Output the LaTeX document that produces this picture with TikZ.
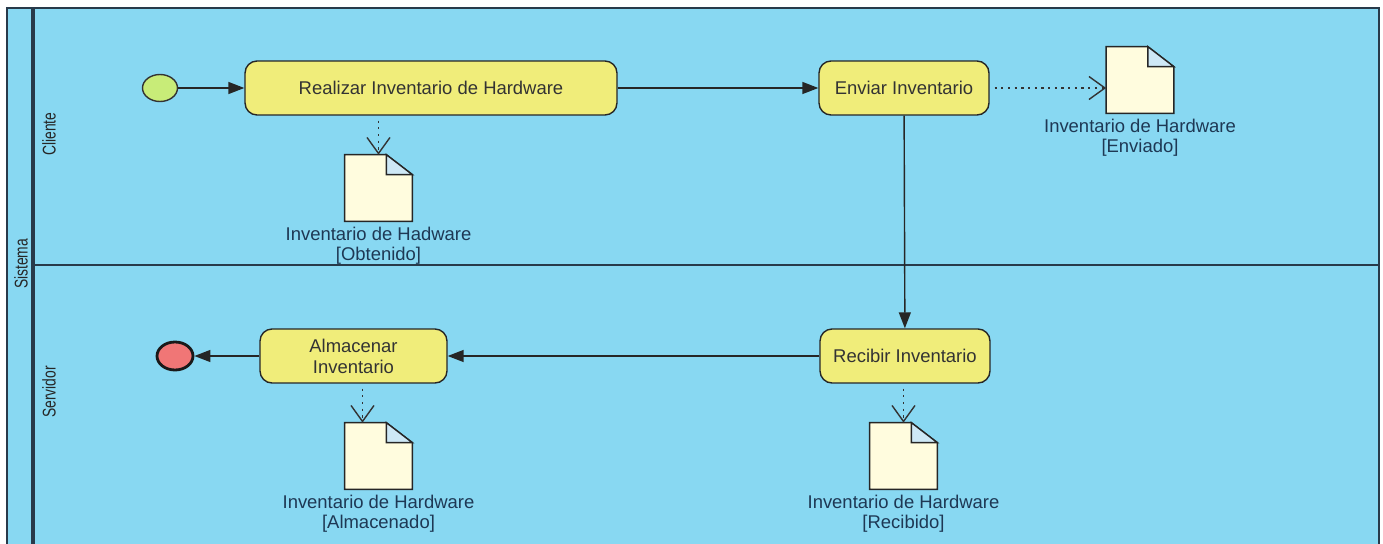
\documentclass[tikz,border=0pt]{standalone}
\usepackage{fontspec}
\setmainfont{Liberation Sans}
\newfontfamily\lanefont[FakeStretch=0.75]{Liberation Sans}
\usetikzlibrary{arrows.meta}
\usetikzlibrary{positioning}
\usetikzlibrary{shapes.geometric}

\definecolor{lanebg}{RGB}{136,216,242}
\definecolor{framecol}{RGB}{40,58,74}
\definecolor{actfill}{RGB}{240,237,122}
\definecolor{startfill}{RGB}{200,236,120}
\definecolor{endfill}{RGB}{240,118,118}
\definecolor{docfill}{RGB}{255,252,222}
\definecolor{foldfill}{RGB}{206,232,246}
\definecolor{lblcol}{RGB}{30,56,84}

\tikzset{
  activity/.style={draw=black!85, fill=actfill, rounded corners=0.24cm, thick,
    minimum height=1.08cm, align=center, text=black!80,
    font=\fontsize{10.5}{12}\selectfont},
  startnode/.style={ellipse, draw=black!80, fill=startfill, thick,
    minimum width=0.7cm, minimum height=0.54cm, inner sep=0pt},
  endnode/.style={ellipse, draw=black!90, fill=endfill, line width=1.6pt,
    minimum width=0.72cm, minimum height=0.56cm, inner sep=0pt},
  docbox/.style={minimum width=1.34cm, minimum height=1.32cm, inner sep=0pt},
  docline/.style={draw=black!85, thick},
  doclabel/.style={align=center, text=lblcol, inner sep=1pt,
    font=\fontsize{10.5}{11.5}\selectfont},
  lanelabel/.style={rotate=90, text=black!85, font=\lanefont\fontsize{10.5}{12}\selectfont},
  flow/.style={draw=black!85, thick, -{Triangle[length=0.32cm,width=0.24cm]}},
  objflow/.style={draw=black!80, line width=0.8pt, dash pattern=on 1.2pt off 2.6pt,
    shorten <=0.1cm, -{Straight Barb[length=0.32cm,width=0.46cm]}}
}

% document icon with folded corner
\newcommand{\docicon}[2]{%
  \node[docbox] (#1) at (#2) {};
  \filldraw[docline, fill=docfill] (#1.south west) -- (#1.north west)
    -- ([xshift=-0.52cm]#1.north east) -- ([yshift=-0.4cm]#1.north east)
    -- (#1.south east) -- cycle;
  \filldraw[docline, fill=foldfill] ([xshift=-0.52cm]#1.north east)
    -- ([xshift=-0.52cm,yshift=-0.4cm]#1.north east)
    -- ([yshift=-0.4cm]#1.north east) -- cycle;
}

\begin{document}
\begin{tikzpicture}[x=0.02cm, y=-0.02cm]

\useasboundingbox (0,0) rectangle (1383,544);

% pool and lanes
\fill[lanebg] (7,8) rectangle (1379,544);
\draw[framecol, line width=0.8pt] (7,544) -- (7,8) -- (1379,8) -- (1379,544);
\draw[framecol, line width=1.8pt] (33,8) -- (33,544);
\draw[framecol, line width=0.8pt] (33,265) -- (1379,265);

\node[lanelabel] (sistema) at (21,264) {Sistema};
\node[lanelabel] (cliente) at (49,134) {Cliente};
\node[lanelabel] (servidor) at (49,392) {Servidor};

% Cliente
\node[startnode] (inicio) at (160,88) {};
\node[activity, minimum width=7.44cm] (realizar) at (431,88) {Realizar Inventario de Hardware};
\node[activity, minimum width=3.4cm] (enviar) at (904,88) {Enviar Inventario};
\docicon{obtenido}{378.5,188}
\docicon{enviado}{1140,80}
\node[doclabel, below=0.07cm of obtenido] (obtenidolbl) {Inventario de Hadware\\{[Obtenido]}};
\node[doclabel, below=0.07cm of enviado] (enviadolbl) {Inventario de Hardware\\{[Enviado]}};

% Servidor
\node[activity, minimum width=3.4cm] (recibir) at (905,356) {Recibir Inventario};
\node[activity, minimum width=3.74cm, inner sep=1pt] (almacenar) at (353.5,356) {Almacenar\\Inventario};
\node[endnode] (fin) at (175,356) {};
\docicon{recibido}{903.5,456}
\docicon{almacenado}{378.5,456}
\node[doclabel, below=0.07cm of recibido] (recibidolbl) {Inventario de Hardware\\{[Recibido]}};
\node[doclabel, below=0.07cm of almacenado] (almacenadolbl) {Inventario de Hardware\\{[Almacenado]}};

% control flows
\draw[flow] (inicio) -- (realizar);
\draw[flow] (realizar) -- (enviar);
\draw[flow] (enviar) -- (recibir);
\draw[flow] (recibir) -- (almacenar);
\draw[flow] (almacenar) -- (fin);

% object flows
\draw[objflow] (obtenido.north |- realizar.south) -- (obtenido.north);
\draw[objflow] (enviar.east) -- (enviar.east -| enviado.west);
\draw[objflow] (recibido.north |- recibir.south) -- (recibido.north);
\draw[objflow] ([xshift=-0.32cm]almacenado.north |- almacenar.south) -- ([xshift=-0.32cm]almacenado.north);

\end{tikzpicture}
\end{document}
